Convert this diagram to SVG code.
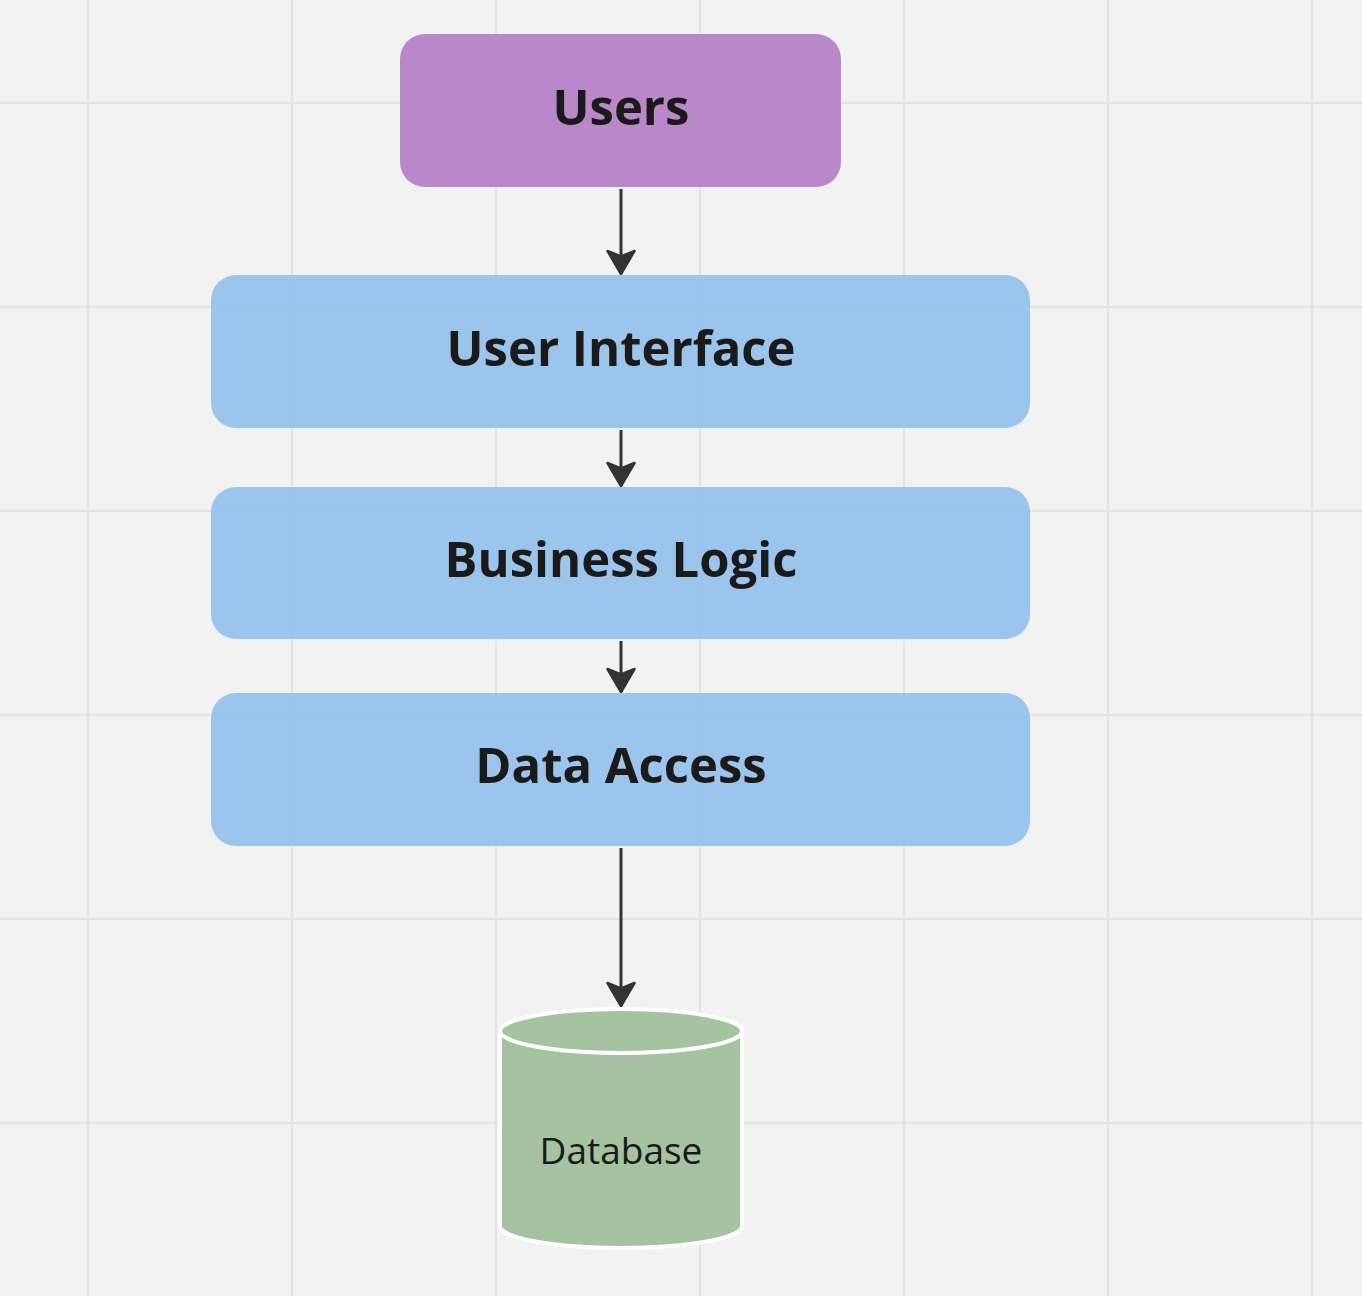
<svg xmlns="http://www.w3.org/2000/svg" width="1362" height="1296" viewBox="0 0 1362 1296">
  <defs>
    <pattern id="grid" x="87" y="102" width="204" height="204" patternUnits="userSpaceOnUse">
      <path d="M1 0V204M0 1H204" stroke="#e3e3e3" stroke-width="2" fill="none"/>
    </pattern>
    <marker id="arrow" viewBox="0 0 26 30" refX="25" refY="15" markerWidth="26" markerHeight="30" markerUnits="userSpaceOnUse" orient="auto">
      <path d="M2 1.5 L25 15 L2 28.5 L7.5 15 Z" fill="#333333" stroke="#333333" stroke-width="2.5" stroke-linejoin="round"/>
    </marker>
    <style>
      .layer { fill: #94c1ec; fill-opacity: 0.92; }
      .users { fill: #b57fc7; fill-opacity: 0.94; }
      .title { font-family: "Open Sans", "Noto Sans", sans-serif; font-weight: 700; font-size: 49px; fill: #1a1a1a; text-anchor: middle; }
      .label { font-family: "Open Sans", "Noto Sans", sans-serif; font-weight: 400; font-size: 37px; fill: #1a1a1a; text-anchor: middle; }
      .edge { stroke: #333333; stroke-width: 3; fill: none; }
      .db { fill: #a5c3a1; stroke: #ffffff; stroke-width: 4; }
    </style>
  </defs>

  <!-- background grid -->
  <rect width="1362" height="1296" fill="#f2f2f2"/>
  <rect width="1362" height="1296" fill="url(#grid)"/>

  <!-- connectors -->
  <g id="connectors">
    <line class="edge" x1="621" y1="189" x2="621" y2="274" marker-end="url(#arrow)"/>
    <line class="edge" x1="621" y1="430" x2="621" y2="486" marker-end="url(#arrow)"/>
    <line class="edge" x1="621" y1="641" x2="621" y2="692" marker-end="url(#arrow)"/>
    <line class="edge" x1="621" y1="848" x2="621" y2="1006" marker-end="url(#arrow)"/>
  </g>

  <g id="users">
    <rect class="users" x="400" y="34" width="441" height="153" rx="25"/>
    <text class="title" x="621" y="125">Users</text>
  </g>

  <g id="user-interface">
    <rect class="layer" x="211" y="275" width="819" height="153" rx="25"/>
    <text class="title" x="621" y="366">User Interface</text>
  </g>

  <g id="business-logic">
    <rect class="layer" x="211" y="487" width="819" height="152" rx="25"/>
    <text class="title" x="621" y="577">Business Logic</text>
  </g>

  <g id="data-access">
    <rect class="layer" x="211" y="693" width="819" height="153" rx="25"/>
    <text class="title" x="621" y="783">Data Access</text>
  </g>

  <g id="database">
    <path class="db" d="M500 1031 V1226 A121 22 0 0 0 742 1226 V1031 A121 22 0 0 0 500 1031 Z"/>
    <path class="db" d="M500 1031 A121 22 0 0 0 742 1031" fill="none"/>
    <text class="label" x="621" y="1164">Database</text>
  </g>
</svg>
